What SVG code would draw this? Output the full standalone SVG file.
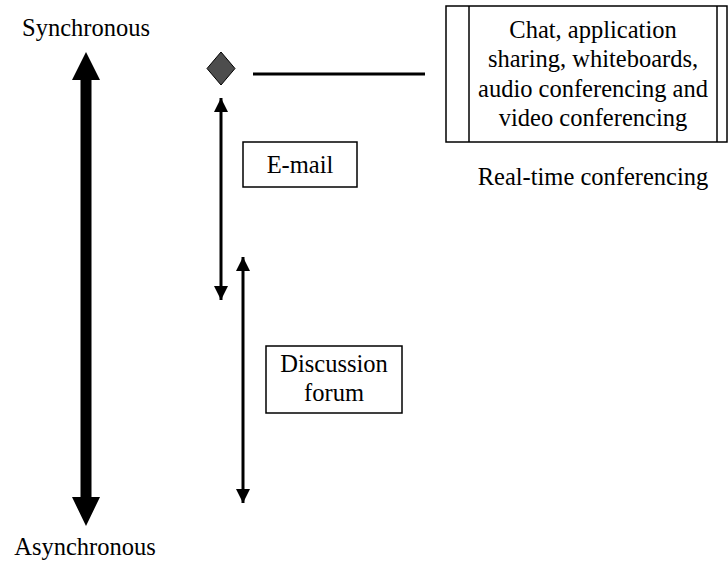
<svg xmlns="http://www.w3.org/2000/svg" width="728" height="563" viewBox="0 0 728 563">
  <style>
    .t { font-family: 'Liberation Serif', 'Times New Roman', Times, serif; font-size: 24.5px; fill: #000; text-anchor: middle; }
    .box { fill: #fff; stroke: #000; stroke-width: 1.5; }
    .conn { stroke: #000; stroke-width: 3; fill: none; }
  </style>
  <defs>
    <marker id="ah" markerUnits="userSpaceOnUse" markerWidth="14" markerHeight="14" refX="14" refY="7" orient="auto-start-reverse" viewBox="0 0 14 14">
      <path d="M0,0 L14,7 L0,14 Z" fill="#000"/>
    </marker>
  </defs>

  <g font-family="Liberation Serif, serif">
  <g id="label-sync"><text class="t" x="86" y="36">Synchronous</text></g>
  <g id="label-async"><text class="t" x="85" y="555">Asynchronous</text></g>

  <g id="connectors">
    <polygon id="axis" points="86,52 100,80 91.5,80 91.5,497 100,497 86,526 72,497 80.5,497 80.5,80 72,80" fill="#000"/>
    <line class="conn" x1="253" y1="74" x2="425" y2="74"/>
    <line class="conn" x1="221" y1="98" x2="221" y2="300" marker-start="url(#ah)" marker-end="url(#ah)"/>
    <line class="conn" x1="243" y1="257" x2="243" y2="503" marker-start="url(#ah)" marker-end="url(#ah)"/>
  </g>

  <g id="diamond">
    <polygon points="221,52 235,68.5 221,85 207,68.5" fill="#4d4d4d" stroke="#000" stroke-width="1"/>
  </g>

  <g id="realtime">
    <rect class="box" x="446" y="6" width="281" height="136"/>
    <line x1="469" y1="6" x2="469" y2="142" stroke="#000" stroke-width="1.5"/>
    <line x1="717" y1="6" x2="717" y2="142" stroke="#000" stroke-width="1.5"/>
    <text class="t" x="593" y="38">Chat, application</text>
    <text class="t" x="593" y="67">sharing, whiteboards,</text>
    <text class="t" x="593" y="97">audio conferencing and</text>
    <text class="t" x="593" y="126">video conferencing</text>
    <text class="t" x="593" y="185">Real-time conferencing</text>
  </g>

  <g id="email">
    <rect class="box" x="243" y="142" width="114" height="45"/>
    <text class="t" x="300" y="173">E-mail</text>
  </g>

  <g id="forum">
    <rect class="box" x="266" y="346" width="136" height="67"/>
    <text class="t" x="334" y="372">Discussion</text>
    <text class="t" x="334" y="401">forum</text>
  </g>
  </g>
</svg>
